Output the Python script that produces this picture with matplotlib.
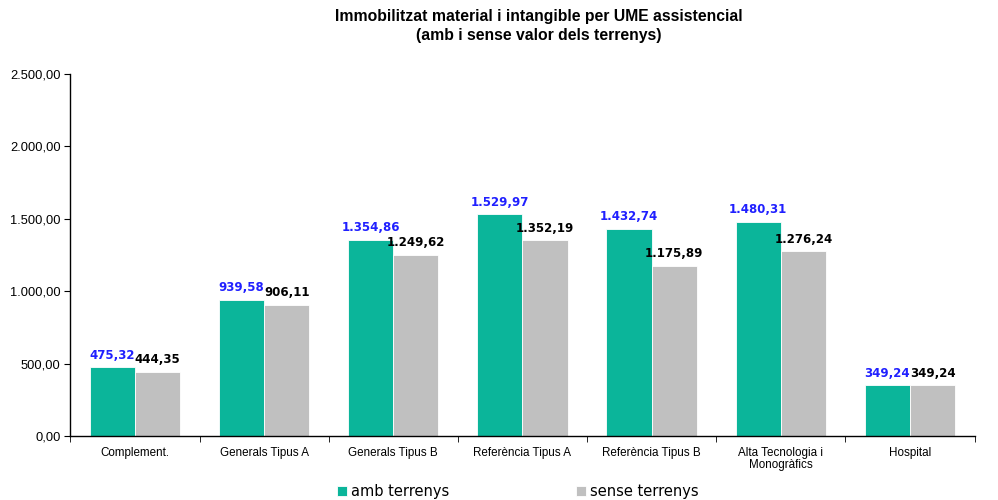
import numpy as np
import matplotlib.pyplot as plt
from matplotlib.ticker import FuncFormatter, FixedLocator

# Data per UME category
categories = ["Complement.", "Generals Tipus A", "Generals Tipus B", "Referència Tipus A",
              "Referència Tipus B", "Alta Tecnologia i\nMonogràfics", "Hospital"]
amb_terrenys = [475.32, 939.58, 1354.86, 1529.97, 1432.74, 1480.31, 349.24]
sense_terrenys = [444.35, 906.11, 1249.62, 1352.19, 1175.89, 1276.24, 349.24]


def fmt_es(v, decimals=2):
    s = f"{v:,.{decimals}f}"
    return s.replace(",", "X").replace(".", ",").replace("X", ".")


fig = plt.figure(figsize=(9.98, 5), dpi=100)
ax = fig.add_axes([0.0705, 0.128, 0.906, 0.724])

x = np.arange(len(categories))
w = 0.35
teal = "#0BB59A"
grey = "#C0C0C0"
b1 = ax.bar(x - w / 2, amb_terrenys, w, color=teal, edgecolor="white", linewidth=0.6, label="amb terrenys")
b2 = ax.bar(x + w / 2, sense_terrenys, w, color=grey, edgecolor="white", linewidth=0.6, label="sense terrenys")

for rect, v in zip(b1, amb_terrenys):
    ax.annotate(fmt_es(v), (rect.get_x() + rect.get_width() / 2, v), xytext=(0, 4),
                textcoords="offset points", ha="center", va="bottom",
                fontsize=8.5, fontweight="bold", color="#2020FF", family="DejaVu Sans")
for rect, v in zip(b2, sense_terrenys):
    ax.annotate(fmt_es(v), (rect.get_x() + rect.get_width() / 2, v), xytext=(0, 4),
                textcoords="offset points", ha="center", va="bottom",
                fontsize=8.5, fontweight="bold", color="black", family="DejaVu Sans")

ax.set_xlim(-0.5, len(categories) - 0.5)
ax.set_ylim(0, 2500)
ax.set_yticks(np.arange(0, 2501, 500))
ax.yaxis.set_major_formatter(FuncFormatter(lambda v, p: fmt_es(v)))
ax.set_xticks(x)
ax.set_xticklabels(categories, fontsize=8.4, family="Liberation Sans", linespacing=1.0)
ax.tick_params(axis="x", length=0, pad=8)
ax.xaxis.set_minor_locator(FixedLocator(np.arange(-0.5, len(categories), 1.0)))
ax.tick_params(axis="x", which="minor", length=4, direction="out")
ax.tick_params(axis="y", length=4, direction="out", labelsize=9.3, pad=3)
for lab in ax.get_yticklabels():
    lab.set_family("Liberation Sans")

for s in ["top", "right"]:
    ax.spines[s].set_visible(False)
ax.spines["left"].set_linewidth(1.0)
ax.spines["bottom"].set_linewidth(1.0)

fig.suptitle("Immobilitzat material i intangible per UME assistencial\n(amb i sense valor dels terrenys)",
             x=0.54, y=0.982, fontsize=11.3, fontweight="bold", family="Liberation Sans", linespacing=1.3)

fig.legend(handles=[b1, b2], loc="lower center", bbox_to_anchor=(0.519, -0.025), ncol=2,
           frameon=False, handlelength=0.7, handleheight=0.7, handletextpad=0.25,
           columnspacing=8.7, prop={"family": "DejaVu Sans", "size": 10.5})

fig.savefig("out.png", dpi=100)
